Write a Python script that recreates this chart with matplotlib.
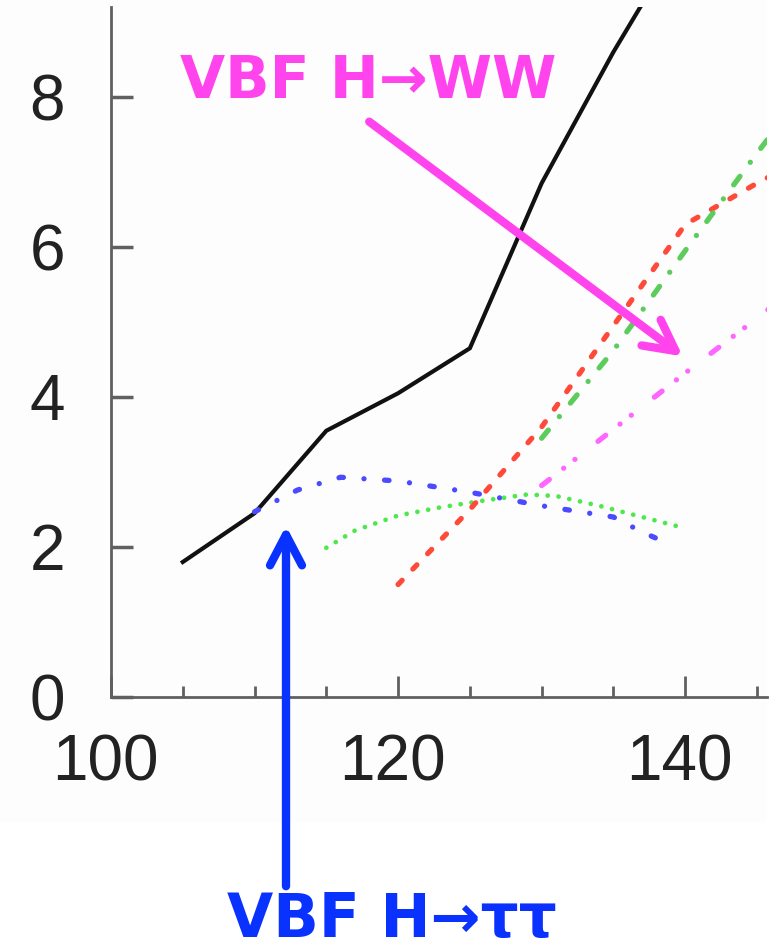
import matplotlib.pyplot as plt
import matplotlib.patches as mpatches
from matplotlib.transforms import ScaledTranslation

# Higgs mass points (GeV) and curve values for each channel
mass_sm = [105, 110, 115, 120, 125, 130, 135, 140]
sig_sm = [1.8, 2.45, 3.55, 4.05, 4.65, 6.85, 8.6, 10.2]

mass_tautau = [110, 113, 116, 120, 125, 130, 135, 137, 139]
sig_tautau = [2.47, 2.76, 2.93, 2.88, 2.73, 2.55, 2.4, 2.2, 2.03]

mass_gg = [115, 117, 120, 123, 126, 129, 131, 134, 137, 139.6]
sig_gg = [1.99, 2.22, 2.42, 2.53, 2.62, 2.7, 2.68, 2.55, 2.4, 2.27]

mass_red = [120, 125, 130, 135, 140, 145, 147]
sig_red = [1.5, 2.5, 3.6, 4.95, 6.3, 6.85, 7.05]

mass_green = [130, 135, 140, 145, 147]
sig_green = [3.45, 4.62, 5.95, 7.25, 7.75]

mass_ww = [130, 135, 140, 145, 147]
sig_ww = [2.82, 3.57, 4.32, 5.05, 5.35]

x_major = [100, 120, 140]
x_minor = [105, 110, 115, 125, 130, 135, 145]
y_ticks = [0, 2, 4, 6, 8]

W, H = 779, 951
fig = plt.figure(figsize=(W / 100, H / 100), dpi=100)
fig.patch.set_facecolor('white')
# faint panel behind the plot itself
fig.patches.append(mpatches.Rectangle((0, 1 - 823 / H), 767 / W, 823 / H,
                                      transform=fig.transFigure,
                                      facecolor='#fdfdfd', edgecolor='none',
                                      zorder=-10))

ax = fig.add_axes([111 / W, 1 - 697 / H, (767 - 111) / W, (697 - 7) / H])
ax.patch.set_visible(False)
ax.set_xlim(100, 145.7)
ax.set_ylim(0, 9.2)

lw = 3.8
ax.plot(mass_sm, sig_sm, color='#111111', lw=3.0, solid_joinstyle='miter')
ax.plot(mass_tautau, sig_tautau, color='#4a4aff', lw=lw, dash_capstyle='round',
        linestyle=(0, (0.85, 3.9, 0.01, 3.9)))
ax.plot(mass_gg, sig_gg, color='#4ee84e', lw=lw * 0.9, dash_capstyle='round',
        linestyle=(0, (0.01, 2.3)))
ax.plot(mass_red, sig_red, color='#ff4a3a', lw=lw, dash_capstyle='round',
        linestyle=(0, (1.1, 2.95)))
ax.plot(mass_green, sig_green, color='#5ccc5c', lw=lw, dash_capstyle='round',
        linestyle=(0, (2.0, 3.3, 0.01, 3.3)))
ax.plot(mass_ww, sig_ww, color='#ff66ff', lw=lw, dash_capstyle='round',
        linestyle=(0, (1.85, 3.45, 0.01, 2.7, 0.01, 5.55)))

for side in ['top', 'right']:
    ax.spines[side].set_visible(False)
for side in ['left', 'bottom']:
    ax.spines[side].set_color('#606060')
    ax.spines[side].set_linewidth(2)

ax.set_xticks(x_major)
ax.set_xticks(x_minor, minor=True)
ax.set_yticks(y_ticks)
ax.tick_params(axis='x', which='major', direction='in', length=15, width=2,
               color='#606060', pad=26, labelsize=46, labelcolor='#222222')
ax.tick_params(axis='x', which='minor', direction='in', length=8, width=2,
               color='#606060')
ax.tick_params(axis='y', direction='in', length=16, width=2.5,
               color='#606060', pad=33, labelsize=46, labelcolor='#222222')
shift = ScaledTranslation(-6 / 100, 0, fig.dpi_scale_trans)
for lab in ax.get_xticklabels():
    lab.set_family('Liberation Sans')
    lab.set_transform(lab.get_transform() + shift)
for lab in ax.get_yticklabels():
    lab.set_family('Liberation Sans')

# hand-drawn style channel labels
fig.text(180 / W, 1 - 98 / H, 'VBF H→WW', color='#ff44ee', fontsize=42,
         fontweight='bold', family='DejaVu Sans', ha='left', va='baseline')
fig.text(227 / W, 1 - 937 / H, 'VBF H→ττ', color='#0a32ff', fontsize=43,
         fontweight='bold', family='DejaVu Sans', ha='left', va='baseline')

head = '->,head_length=2.2,head_width=1.15'
ax.annotate('', xy=(685 / W, 1 - 358 / H), xytext=(367 / W, 1 - 120 / H),
            xycoords='figure fraction', textcoords='figure fraction',
            arrowprops=dict(arrowstyle=head, color='#ff44ee', lw=6,
                            capstyle='round', joinstyle='round'),
            annotation_clip=False)
ax.annotate('', xy=(286 / W, 1 - 523 / H), xytext=(286 / W, 1 - 889 / H),
            xycoords='figure fraction', textcoords='figure fraction',
            arrowprops=dict(arrowstyle=head, color='#0a32ff', lw=6,
                            capstyle='round', joinstyle='round'),
            annotation_clip=False)

fig.savefig('out.png', dpi=100, facecolor=fig.get_facecolor())
